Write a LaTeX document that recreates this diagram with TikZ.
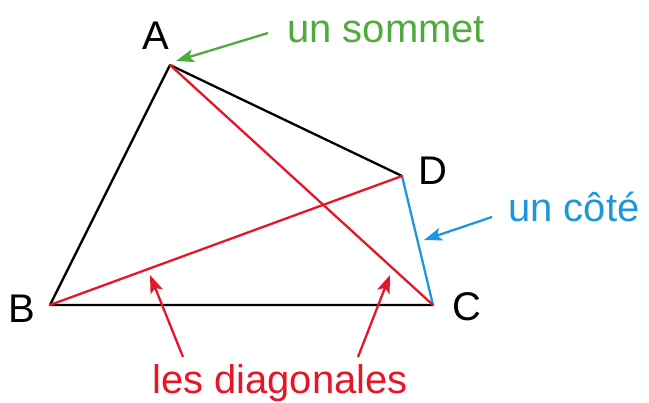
\documentclass[tikz,border=0pt]{standalone}
\usepackage{fontspec}
\setmainfont{Liberation Sans}
\usetikzlibrary{arrows.meta}
\definecolor{sgreen}{RGB}{78,172,60}
\definecolor{sblue}{RGB}{30,150,220}
\definecolor{sred}{RGB}{228,22,40}
\tikzset{
  side/.style={line width=2.3pt, line cap=round, line join=round},
  lbl/.style={inner sep=0pt, anchor=base west, font=\fontsize{40}{40}\selectfont},
  pointer/.style={line width=2.3pt, -{Stealth[length=18pt,width=13pt,inset=4pt]}}
}
\begin{document}
\begin{tikzpicture}[x=1pt,y=-1pt]
\useasboundingbox (0,0) rectangle (649,403);
\coordinate (A) at (170,65);
\coordinate (B) at (50,305);
\coordinate (C) at (433,305);
\coordinate (D) at (402,176);
% sides
\draw[side] (A) -- (B) -- (C);
\draw[side] (A) -- (D);
\draw[side, sblue] (D) -- (C);
% diagonals
\draw[side, sred] (A) -- (C);
\draw[side, sred] (B) -- (D);
% vertex labels
\node[lbl] (lA) at (142,50) {A};
\node[lbl] (lB) at (8,323) {B};
\node[lbl] (lC) at (452,321) {C};
\node[lbl] (lD) at (418,185) {D};
% annotations
\node[lbl, text=sgreen] (sommet) at (287,43) {un sommet};
\node[lbl, text=sblue] (cote) at (508,222) {un côté};
\node[lbl, text=sred] (diag) at (152,394) {les diagonales};
% arrows
\coordinate (gs) at (268,33);
\coordinate (gt) at (176,61);
\coordinate (bs) at (492,217);
\coordinate (bt) at (424,240);
\coordinate (r1s) at (183,357);
\coordinate (r1t) at (150,275);
\coordinate (r2s) at (358,357);
\coordinate (r2t) at (390,275);
\draw[pointer, sgreen] (gs) -- (gt);
\draw[pointer, sblue] (bs) -- (bt);
\draw[pointer, sred] (r1s) -- (r1t);
\draw[pointer, sred] (r2s) -- (r2t);
\end{tikzpicture}
\end{document}
